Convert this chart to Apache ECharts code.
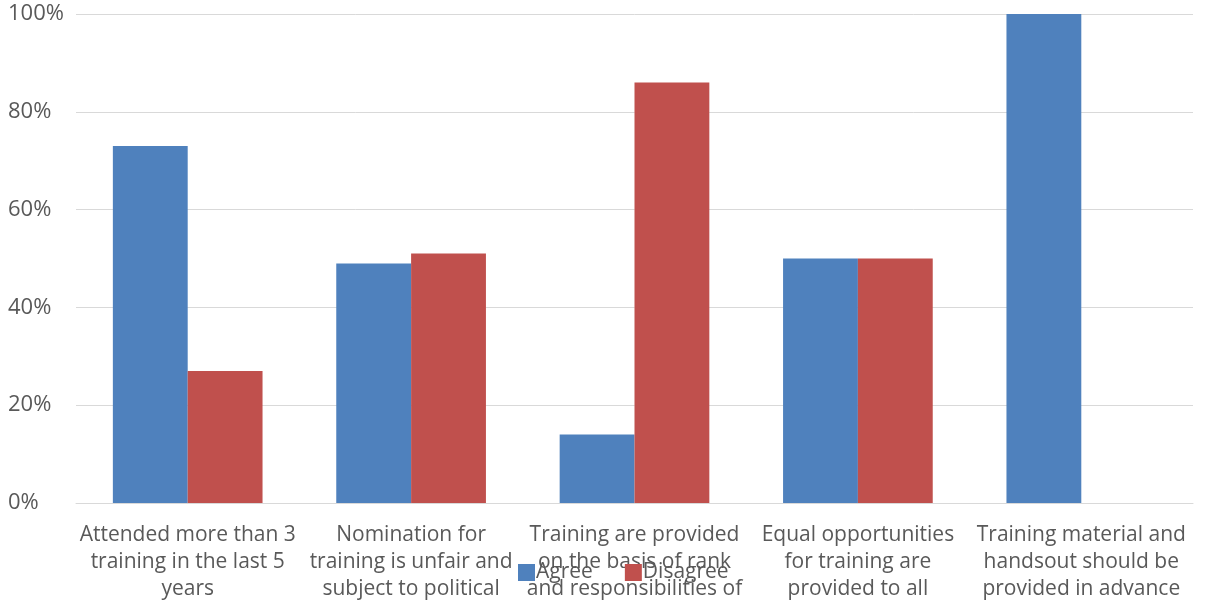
<!DOCTYPE html>
<html>
<head>
<meta charset="utf-8">
<script src="https://cdn.jsdelivr.net/npm/echarts@6/dist/echarts.min.js"></script>
<style>
  html, body { margin: 0; padding: 0; background: #ffffff; }
  #chart { width: 1210px; height: 606px; }
</style>
</head>
<body>
<div id="chart"></div>
<script>
// Survey statements (axis labels wrap onto three lines)
const categories = [
  'Attended more than 3\ntraining in the last 5\nyears',
  'Nomination for\ntraining is unfair and\nsubject to political',
  'Training are provided\non the basis of rank\nand responsibilities of',
  'Equal opportunities\nfor training are\nprovided to all',
  'Training material and\nhandsout should be\nprovided in advance'
];

// Share of respondents, in percent
const agree = [73, 49, 14, 50, 100];
const disagree = [27, 51, 86, 50, 0];

const yTicks = [0, 20, 40, 60, 80, 100];

const textColor = '#595959';
const fontFamily = '"Open Sans", "Noto Sans", sans-serif';

const chart = echarts.init(document.getElementById('chart'), null, { renderer: 'canvas' });

chart.setOption({
  animation: false,
  backgroundColor: '#ffffff',
  grid: { left: 76, right: 17, top: 14, bottom: 103, containLabel: false },
  legend: {
    left: 513,
    top: 557,
    itemWidth: 17,
    itemHeight: 17,
    itemGap: 32,
    icon: 'rect',
    textStyle: { color: textColor, fontSize: 21, fontFamily: fontFamily, padding: [0, 0, 0, -4] },
    data: ['Agree', 'Disagree']
  },
  xAxis: {
    type: 'category',
    data: categories,
    axisLine: { show: true, lineStyle: { color: '#d9d9d9', width: 1 } },
    axisTick: { show: false },
    axisLabel: {
      interval: 0,
      color: textColor,
      fontSize: 21,
      fontFamily: fontFamily,
      lineHeight: 27,
      margin: 19
    }
  },
  yAxis: {
    type: 'value',
    min: yTicks[0],
    max: yTicks[yTicks.length - 1],
    interval: 20,
    axisLine: { show: false },
    axisTick: { show: false },
    splitLine: { lineStyle: { color: '#d9d9d9', width: 1 } },
    axisLabel: {
      color: textColor,
      fontSize: 22,
      fontFamily: fontFamily,
      align: 'left',
      margin: 68,
      formatter: v => v + '%'
    }
  },
  series: [
    {
      name: 'Agree',
      type: 'bar',
      data: agree,
      barGap: '0%',
      barCategoryGap: '33%',
      itemStyle: { color: '#4f81bd' }
    },
    {
      name: 'Disagree',
      type: 'bar',
      data: disagree,
      barGap: '0%',
      barCategoryGap: '33%',
      itemStyle: { color: '#c0504d' }
    }
  ]
});
</script>
</body>
</html>
